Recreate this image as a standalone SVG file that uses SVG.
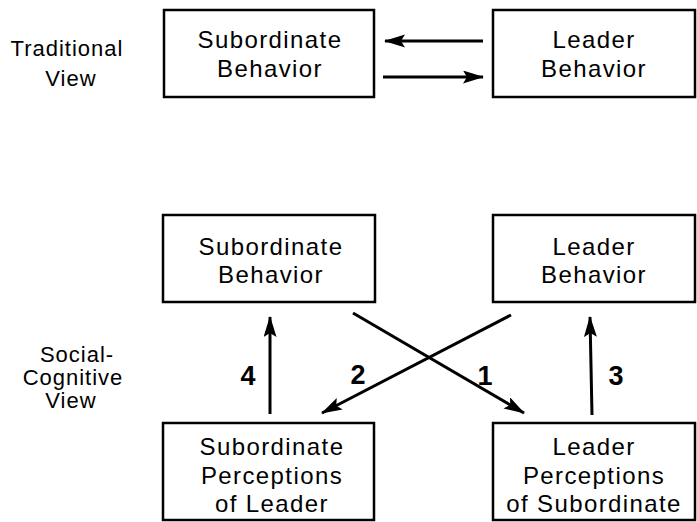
<svg xmlns="http://www.w3.org/2000/svg" width="697" height="522" viewBox="0 0 697 522">
  <style>
    .box { fill: #fff; stroke: #000; stroke-width: 2.5; }
    .lbl { font-family: "Liberation Sans", Arial, sans-serif; font-size: 24px; letter-spacing: 1.4px; text-anchor: middle; fill: #000; }
    .side { font-family: "Liberation Sans", Arial, sans-serif; font-size: 22px; letter-spacing: 1px; text-anchor: middle; fill: #000; }
    .num { font-family: "Liberation Sans", Arial, sans-serif; font-size: 27px; font-weight: bold; text-anchor: middle; fill: #000; }
    .edge { stroke: #000; stroke-width: 3; fill: none; marker-end: url(#head); }
  </style>
  <defs>
    <marker id="head" markerUnits="userSpaceOnUse" markerWidth="22" markerHeight="14" refX="20" refY="6.5" orient="auto">
      <path d="M0,0 L21,6.5 L0,13 L4,6.5 z" fill="#000"/>
    </marker>
  </defs>
  <rect width="697" height="522" fill="#fff"/>

  <!-- side captions -->
  <g id="traditional-caption">
    <text class="side" x="67" y="56">Traditional</text>
    <text class="side" x="71" y="86">View</text>
  </g>
  <g id="social-cognitive-caption">
    <text class="side" x="77" y="362">Social-</text>
    <text class="side" x="73" y="385">Cognitive</text>
    <text class="side" x="71" y="408">View</text>
  </g>

  <!-- traditional view -->
  <g id="trad-subordinate-behavior">
    <rect class="box" x="164" y="10" width="210" height="87"/>
    <text class="lbl" x="270" y="48">Subordinate</text>
    <text class="lbl" x="270" y="77">Behavior</text>
  </g>
  <g id="trad-leader-behavior">
    <rect class="box" x="493" y="10" width="202" height="87"/>
    <text class="lbl" x="594" y="48">Leader</text>
    <text class="lbl" x="594" y="77">Behavior</text>
  </g>

  <!-- social-cognitive view -->
  <g id="sc-subordinate-behavior">
    <rect class="box" x="163" y="215" width="212" height="87"/>
    <text class="lbl" x="271" y="255">Subordinate</text>
    <text class="lbl" x="271" y="283">Behavior</text>
  </g>
  <g id="sc-leader-behavior">
    <rect class="box" x="493" y="215" width="202" height="87"/>
    <text class="lbl" x="594" y="255">Leader</text>
    <text class="lbl" x="594" y="283">Behavior</text>
  </g>
  <g id="sc-subordinate-perceptions">
    <rect class="box" x="163" y="423" width="211" height="97"/>
    <text class="lbl" x="272" y="455">Subordinate</text>
    <text class="lbl" x="272" y="484">Perceptions</text>
    <text class="lbl" x="272" y="512">of Leader</text>
  </g>
  <g id="sc-leader-perceptions">
    <rect class="box" x="493" y="423" width="202" height="97"/>
    <text class="lbl" x="594" y="455">Leader</text>
    <text class="lbl" x="594" y="484">Perceptions</text>
    <text class="lbl" x="594" y="512">of Subordinate</text>
  </g>

  <!-- connectors -->
  <g id="connectors">
    <line class="edge" x1="483" y1="41" x2="385" y2="41"/>
    <line class="edge" x1="383" y1="77" x2="483" y2="77"/>
    <line class="edge" x1="270" y1="414" x2="270" y2="317"/>
    <line class="edge" x1="592" y1="415" x2="590" y2="317"/>
    <line class="edge" x1="353" y1="313" x2="524" y2="413"/>
    <line class="edge" x1="511" y1="315" x2="322" y2="413"/>
    <text class="num" x="248" y="385">4</text>
    <text class="num" x="358" y="384">2</text>
    <text class="num" x="485" y="385">1</text>
    <text class="num" x="616" y="385">3</text>
  </g>
</svg>
